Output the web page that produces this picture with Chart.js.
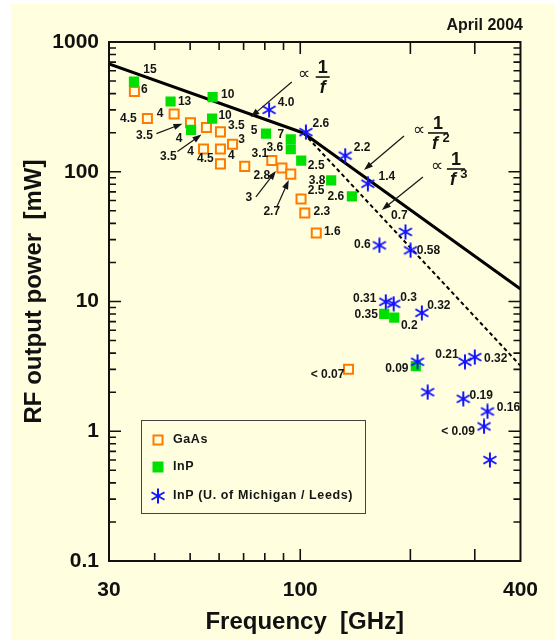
<!DOCTYPE html>
<html><head><meta charset="utf-8">
<script src="https://cdn.jsdelivr.net/npm/chart.js@4.4.0/dist/chart.umd.min.js"></script>
<style>html,body{margin:0;padding:0;background:#fff}#wrap{width:555px;height:640px;position:relative}</style>
</head><body><div id="wrap"><canvas id="c"></canvas></div>
<script>
// ---------- data ----------
const xTickVals = [30, 100, 400];
const yTickVals = [0.1, 1, 10, 100, 1000];
const xMinorTicks = [40, 50, 60, 70, 80, 90];
const xMajorTicks = [100, 200, 300];

const gaasFreq  = [35.2, 38.2, 45.2, 50.1, 55.4, 60.5, 65.3, 54.4, 60.5, 60.5, 70.5, 83.6, 89.1, 94.2, 100.5, 102.9, 110.6, 135.5];
const gaasPower = [415, 257, 279, 239, 219, 203, 163, 150, 150, 115, 110, 122, 107, 95.9, 61.6, 48.1, 33.7, 3.0];
const gaasLabels = ['6','4.5','4','3.5','3.5','3.5','3','4','4','4.5','2.8','3.1','3','2.7','2.5','2.3','1.6','< 0.07'];

const inpFreq  = [35.1, 44.2, 57.6, 57.4, 50.3, 80.6, 94.2, 94.2, 100.6, 121.5, 138.4, 169.6, 180.7, 207];
const inpPower = [495, 348, 376, 257, 210, 197, 178, 149, 122, 85.7, 64.6, 8.04, 7.5, 3.18];
const inpLabels = ['15','13','10','10','4','5','7','3.6','2.5','3.8','2.6','0.35','0.2','0.09'];

const umFreq  = [82.2, 103.6, 132.7, 153, 193.9, 200.2, 164.6, 171.3, 180, 215, 209.2, 282, 300, 223, 279, 325, 318, 330];
const umPower = [300, 202, 133, 80.9, 34.4, 24.8, 27.1, 9.95, 9.6, 8.18, 3.43, 3.43, 3.73, 2.0, 1.78, 1.42, 1.09, 0.60];
const umLabels = ['4.0','2.6','2.2','1.4','0.7','0.58','0.6','0.31','0.3','0.32','','0.21','0.32','','0.19','0.16','< 0.09',''];

const law1Freq = [30, 102],  law1Power = [677, 199];
const law2Freq = [102, 400], law2Power = [199, 12.5];
const law3Freq = [102, 400], law3Power = [199, 3.2];

// ---------- layout (label offsets in px, relative to points) ----------
const gaasDx = [10,-19,-14,-46,-38,16,9,-13,11,-15,17,-12,-33,-19,15,17,16,-21];
const gaasDy = [-2,0,0,13,29,-6,-5,3,7,-5,9,-7,30,38,-8,-1,-1,5];
const inpDx = [16,14,15,13,-12,-12,-10,-16,15,-14,-16,-18,15,-19];
const inpDy = [-12,0,-2,-3,9,-3,-5,-2,5,0,0,1,8,3];
const umDx = [17,15,17,19,-6,18,-17,-21,15,17,0,-18,21,0,18,21,-26,0];
const umDy = [-7,-8,-8,-7,-16,0,-1,-3,-6,-7,0,-7,2,0,-3,-4,5,0];
const gaasArrows = [
  {i:3,  from:[-34,11], to:[-8,1]},
  {i:4,  from:[-29,24], to:[-5,7]},
  {i:12, from:[-26,29], to:[-6,3]},
  {i:13, from:[-14,33], to:[-2,6]}
];
const lawNotes = [
  {f:115.2, p:537, exp:'',  half:7,  arrow:[-31,5,-72,40]},
  {f:238,   p:199, exp:'2', half:10, arrow:[-34,3,-74,37]},
  {f:266.4, p:105, exp:'3', half:9,  arrow:[-33,8,-74,41]}
];

const BG = '#ffffe0';
const ORANGE = '#ff7a00', GREEN = '#00e000', BLUE = '#1414ff';
const FONT = '"Liberation Sans", Arial, Helvetica, sans-serif';

function pts(xs, ys){ return xs.map((x,i)=>({x:x, y:ys[i]})); }

function makeStar(size, color, lw){
  const c = document.createElement('canvas'); c.width = c.height = size;
  const g = c.getContext('2d'); g.strokeStyle = color; g.lineWidth = lw; g.lineCap='butt';
  const m = size/2, r = size/2 - 0.5;
  [90, 30, -30].forEach(a=>{ const t=a*Math.PI/180; g.beginPath();
    g.moveTo(m - r*Math.cos(t), m - r*Math.sin(t)); g.lineTo(m + r*Math.cos(t), m + r*Math.sin(t)); g.stroke(); });
  return c;
}
const starImg = makeStar(16, BLUE, 2);

function arrow(ctx, x1, y1, x2, y2){
  const a = Math.atan2(y2-y1, x2-x1), L = 9, W = 3.2;
  ctx.beginPath(); ctx.moveTo(x1,y1); ctx.lineTo(x2 - L*0.8*Math.cos(a), y2 - L*0.8*Math.sin(a)); ctx.stroke();
  ctx.beginPath(); ctx.moveTo(x2,y2);
  ctx.lineTo(x2 - L*Math.cos(a) + W*Math.sin(a), y2 - L*Math.sin(a) - W*Math.cos(a));
  ctx.lineTo(x2 - L*Math.cos(a) - W*Math.sin(a), y2 - L*Math.sin(a) + W*Math.cos(a));
  ctx.closePath(); ctx.fill();
}

const decor = {
  id: 'decor',
  beforeDraw(chart){
    const ctx = chart.ctx; ctx.save();
    ctx.fillStyle = '#fff'; ctx.fillRect(0,0,chart.width,chart.height);
    ctx.fillStyle = BG; ctx.fillRect(11,4,chart.width-11,chart.height-4);
    ctx.restore();
  },
  afterDatasetsDraw(chart){
    const ctx = chart.ctx, xs = chart.scales.x, ys = chart.scales.y;
    ctx.save();
    ctx.fillStyle = '#151515'; ctx.strokeStyle = '#151515';
    ctx.font = 'bold 12px ' + FONT; ctx.textAlign = 'center'; ctx.textBaseline = 'middle';
    const lab = (fx, py, t, dx, dy) => { for (let i=0;i<fx.length;i++){ if(!t[i]) continue;
      ctx.fillText(t[i], xs.getPixelForValue(fx[i]) + dx[i], ys.getPixelForValue(py[i]) + dy[i]); } };
    lab(gaasFreq, gaasPower, gaasLabels, gaasDx, gaasDy);
    lab(inpFreq, inpPower, inpLabels, inpDx, inpDy);
    lab(umFreq, umPower, umLabels, umDx, umDy);
    ctx.lineWidth = 1.2;
    gaasArrows.forEach(a=>{ const px = xs.getPixelForValue(gaasFreq[a.i]), py = ys.getPixelForValue(gaasPower[a.i]);
      arrow(ctx, px+a.from[0], py+a.from[1], px+a.to[0], py+a.to[1]); });
    lawNotes.forEach(n=>{
      const cx = xs.getPixelForValue(n.f), cy = ys.getPixelForValue(n.p);
      ctx.textAlign='center'; ctx.textBaseline='middle';
      ctx.font = '17px ' + FONT; ctx.fillText('\u221D', cx-19, cy-3);
      ctx.font = 'bold 18px ' + FONT; ctx.fillText('1', cx, cy-9);
      ctx.fillRect(cx-n.half, cy-0.8, 2*n.half, 1.6);
      ctx.font = 'italic bold 18px ' + FONT; ctx.fillText('f', n.exp ? cx-3 : cx, cy+11);
      if (n.exp){ ctx.font = 'bold 13px ' + FONT; ctx.fillText(n.exp, cx+8, cy+5); }
      ctx.lineWidth = 1.2;
      arrow(ctx, cx+n.arrow[0], cy+n.arrow[1], cx+n.arrow[2], cy+n.arrow[3]);
    });
    ctx.restore();
  },
  afterDraw(chart){
    const ctx = chart.ctx, xs = chart.scales.x, ys = chart.scales.y, a = chart.chartArea;
    ctx.save();
    ctx.strokeStyle = '#111'; ctx.lineWidth = 2;
    ctx.strokeRect(a.left, a.top, a.right-a.left, a.bottom-a.top);
    ctx.lineWidth = 1.6;
    const vt = (v, len) => { const p = xs.getPixelForValue(v); ctx.beginPath();
      ctx.moveTo(p, a.bottom); ctx.lineTo(p, a.bottom-len); ctx.moveTo(p, a.top); ctx.lineTo(p, a.top+len); ctx.stroke(); };
    xMinorTicks.forEach(v=>vt(v, 8)); xMajorTicks.forEach(v=>vt(v, 12));
    const ht = (v, len) => { const p = ys.getPixelForValue(v); ctx.beginPath();
      ctx.moveTo(a.left, p); ctx.lineTo(a.left+len, p); ctx.moveTo(a.right, p); ctx.lineTo(a.right-len, p); ctx.stroke(); };
    for (let d = 0.1; d < 1000; d *= 10){
      for (let k = 2; k <= 9; k++) ht(d*k, 7);
      if (d > 0.1) ht(d, 12);
    }
    // legend
    const lx = 141, ly = 420;
    ctx.lineWidth = 1; ctx.strokeStyle = '#444';
    ctx.strokeRect(lx+0.5, ly+0.5, 224, 93);
    const ds = chart.data.datasets;
    ctx.font = 'bold 12.5px ' + FONT; ctx.textAlign='left'; ctx.textBaseline='middle';
    try { ctx.letterSpacing = '0.6px'; } catch(e){}
    const rows = [440, 467, 496];
    ctx.strokeStyle = ORANGE; ctx.lineWidth = 2; ctx.strokeRect(158-4.5, rows[0]-4.5, 9, 9);
    ctx.fillStyle = GREEN; ctx.fillRect(158-5.5, rows[1]-5.5, 11, 11);
    ctx.drawImage(starImg, 158-8, rows[2]-8);
    ctx.fillStyle='#151515';
    ctx.fillText(ds[0].label, 173, rows[0]);
    ctx.fillText(ds[1].label, 173, rows[1]);
    ctx.fillText(ds[2].label, 173, rows[2]);
    try { ctx.letterSpacing = '0px'; } catch(e){}
    ctx.font = 'bold 16px ' + FONT; ctx.textAlign='right'; ctx.textBaseline='alphabetic';
    ctx.fillText('April 2004', 523, 30);
    ctx.restore();
  }
};

new Chart(document.getElementById('c'), {
  type: 'scatter',
  data: { datasets: [
    { label:'GaAs', data: pts(gaasFreq, gaasPower), pointStyle:'rect', pointRadius:6.4, pointBorderWidth:2,
      borderColor: ORANGE, backgroundColor: BG, order: 2 },
    { label:'InP', data: pts(inpFreq, inpPower), pointStyle:'rect', pointRadius:7.2, pointBorderWidth:0,
      borderColor: GREEN, backgroundColor: GREEN, order: 1 },
    { label:'InP (U. of Michigan / Leeds)', data: pts(umFreq, umPower), pointStyle: starImg, pointRadius:8,
      borderColor: BLUE, backgroundColor: BLUE, order: 0 },
    { label:'1/f', data: pts(law1Freq, law1Power), showLine:true, pointRadius:0, borderColor:'#000', borderWidth:3, order: 3 },
    { label:'1/f^2', data: pts(law2Freq, law2Power), showLine:true, pointRadius:0, borderColor:'#000', borderWidth:3, order: 3 },
    { label:'1/f^3', data: pts(law3Freq, law3Power), showLine:true, pointRadius:0, borderColor:'#000', borderWidth:2, borderDash:[4,3], order: 3 }
  ]},
  options: {
    responsive: true, maintainAspectRatio: false, animation: false,
    layout: { padding: { left: 11, top: 42, right: 32, bottom: 0 } },
    plugins: { legend: { display: false }, tooltip: { enabled: false } },
    scales: {
      x: { type:'logarithmic', min:30, max:400, position:'bottom',
        afterBuildTicks: s => { s.ticks = xTickVals.map(v=>({value:v})); },
        afterFit: s => { s.height = 79; },
        grid: { display:false, drawTicks:false }, border: { display:false },
        ticks: { autoSkip:false, maxRotation:0, padding:17, color:'#111',
          font:{ family:FONT, size:21, weight:'bold' }, callback: v => String(v) },
        title: { display:true, text:'Frequency  [GHz]   ', color:'#111',
          font:{ family:FONT, size:24, weight:'bold' }, padding:{ top:0, bottom:3 } }
      },
      y: { type:'logarithmic', min:0.1, max:1000,
        afterBuildTicks: s => { s.ticks = yTickVals.map(v=>({value:v})); },
        afterFit: s => { s.width = 98; },
        grid: { display:false, drawTicks:false }, border: { display:false },
        ticks: { autoSkip:false, padding:10, color:'#111',
          font:{ family:FONT, size:21, weight:'bold' }, callback: v => String(v) },
        title: { display:true, text:'   RF output power  [mW]', color:'#111',
          font:{ family:FONT, size:24, weight:'bold' }, padding:{ top:9, bottom:0 } }
      }
    }
  },
  plugins: [decor]
});
</script>
</body></html>
